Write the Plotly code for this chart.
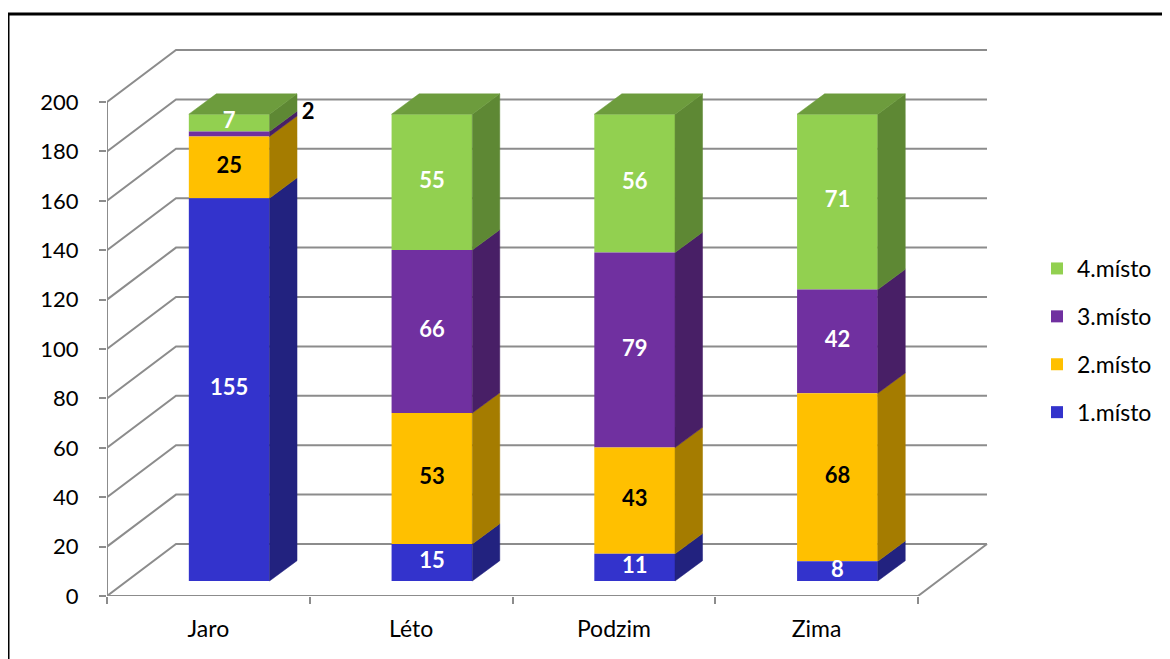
import plotly.graph_objects as go

# ---------------- data ----------------
categories = ["Jaro", "Léto", "Podzim", "Zima"]
series_names = ["1.místo", "2.místo", "3.místo", "4.místo"]
misto1 = [155, 15, 11, 8]
misto2 = [25, 53, 43, 68]
misto3 = [2, 66, 79, 42]
misto4 = [7, 55, 56, 71]
y_ticks = [0, 20, 40, 60, 80, 100, 120, 140, 160, 180, 200]

series_values = [misto1, misto2, misto3, misto4]

# ---------------- styles ----------------
front_colors = ["#3333CC", "#FFC000", "#7030A0", "#92D050"]
side_colors = ["#22227F", "#A57C00", "#481F66", "#5E8834"]
top_colors = ["#2A2AA6", "#D19E00", "#5C2783", "#6D9C3D"]
label_colors = ["white", "black", "white", "white"]
FONT = "Lato"
GRID = "#8C8C8C"

# ---------------- geometry ----------------
# page body has an 8px margin; work in window pixel coordinates
OFF = 8
WIN_W, WIN_H = 1170, 659
W, H = WIN_W - OFF, WIN_H - OFF
PLOT_LEFT, PLOT_TOP, PLOT_BOTTOM = 107, OFF, 596   # window pixels
ML, MR, MT = PLOT_LEFT - OFF, 0, PLOT_TOP - OFF
plot_h = PLOT_BOTTOM - PLOT_TOP
MB = H - MT - plot_h
plot_w = W - ML - MR
PX_PER_UNIT = 2.47


def du(px):  # pixel height -> value units
    return px / PX_PER_UNIT


front_left, front_right = 107.0, 918.0
slot = (front_right - front_left) / len(categories)
wall_dx, wall_dy = 69.0, du(52.0)
bar_off_dx, bar_off_dy = 20.8, du(15.0)
bar_w = 80.7
bar_dx, bar_dy = 27.5, du(20.3)

slot_centers = [front_left + slot * (i + 0.5) for i in range(len(categories))]
slot_bounds = [front_left + slot * i for i in range(len(categories) + 1)]
bar_centers = [c + bar_off_dx for c in slot_centers]

fig = go.Figure()

# grid / walls as shapes below traces
shapes = []
for v in y_ticks:
    shapes.append(dict(type="path", xref="x", yref="y", layer="below",
                       path=f"M{front_left},{v} L{front_left + wall_dx},{v + wall_dy} L{front_right + wall_dx},{v + wall_dy}",
                       line=dict(color=GRID, width=2)))
shapes.append(dict(type="path", xref="x", yref="y", layer="below",
                   path=f"M{front_left},0 L{front_right},0 L{front_right + wall_dx},{wall_dy}",
                   line=dict(color=GRID, width=2)))
shapes.append(dict(type="line", xref="x", yref="y", layer="below",
                   x0=front_left, x1=front_left, y0=-du(2), y1=y_ticks[-1],
                   line=dict(color=GRID, width=2)))
# outer frame (left and top edges visible)
fx0 = (8 - PLOT_LEFT) / plot_w
fx1 = (WIN_W + 3 - PLOT_LEFT) / plot_w
fy1 = 1 - (14 - PLOT_TOP) / plot_h
fy0 = 1 - (WIN_H + 10 - PLOT_TOP) / plot_h
shapes.append(dict(type="path", xref="paper", yref="paper", layer="above",
                   path=f"M{fx0},{fy0} L{fx0},{fy1} L{fx1},{fy1}",
                   line=dict(color="black", width=3)))

# front faces (stack bases)
cum = [0.0] * len(categories)
bases_all = []
for vals in series_values:
    bases_all.append([bar_off_dy + c for c in cum])
    cum = [c + v for c, v in zip(cum, vals)]

# add in reverse so the legend lists 4.místo first
for s in reversed(range(len(series_values))):
    fig.add_trace(go.Bar(
        x=bar_centers, y=series_values[s], base=bases_all[s], width=bar_w,
        name=series_names[s], legendgroup=series_names[s],
        marker=dict(color=front_colors[s], line=dict(width=0)),
        hoverinfo="skip"))

# side faces
for s, vals in enumerate(series_values):
    for i, v in enumerate(vals):
        b = bases_all[s][i]
        t = b + v
        xr = bar_centers[i] + bar_w / 2
        fig.add_trace(go.Scatter(
            x=[xr, xr + bar_dx, xr + bar_dx, xr, xr],
            y=[b, b + bar_dy, t + bar_dy, t, b],
            mode="lines", fill="toself", fillcolor=side_colors[s],
            line=dict(color=side_colors[s], width=0.5),
            showlegend=False, hoverinfo="skip"))

# top faces (colour of the top-most series)
for i in range(len(categories)):
    T = bar_off_dy + cum[i]
    top_s = max(s for s in range(len(series_values)) if series_values[s][i] > 0)
    xl = bar_centers[i] - bar_w / 2
    xr = bar_centers[i] + bar_w / 2
    fig.add_trace(go.Scatter(
        x=[xl, xr, xr + bar_dx, xl + bar_dx, xl],
        y=[T, T, T + bar_dy, T + bar_dy, T],
        mode="lines", fill="toself", fillcolor=top_colors[top_s],
        line=dict(color=top_colors[top_s], width=0.5),
        showlegend=False, hoverinfo="skip"))

# data labels
lx, ly, lt, lc = [], [], [], []
for s, vals in enumerate(series_values):
    for i, v in enumerate(vals):
        b = bases_all[s][i]
        if v < 5:
            lx.append(bar_centers[i] + bar_w / 2 + bar_dx + 11)
            ly.append(b + v / 2 + bar_dy)
            lc.append("black")
        else:
            lx.append(bar_centers[i])
            ly.append(b + v / 2)
            lc.append(label_colors[s])
        lt.append(str(v))
fig.add_trace(go.Scatter(
    x=lx, y=ly, text=lt, mode="text",
    textfont=dict(family=FONT, size=22, color=lc, weight="bold"),
    showlegend=False, hoverinfo="skip"))

fig.update_layout(
    width=W, height=H,
    margin=dict(l=ML, r=MR, t=MT, b=MB, autoexpand=False),
    paper_bgcolor="white", plot_bgcolor="white",
    barmode="overlay",
    shapes=shapes,
    font=dict(family=FONT, size=22, color="black"),
    showlegend=True,
    legend=dict(x=(1037 - PLOT_LEFT) / plot_w, y=1 - (247 - PLOT_TOP) / plot_h,
                xanchor="left", yanchor="top",
                traceorder="grouped", tracegroupgap=15,
                font=dict(family=FONT, size=23, color="black"),
                bgcolor="rgba(0,0,0,0)"),
    xaxis=dict(range=[PLOT_LEFT, WIN_W], tickvals=slot_centers, ticktext=categories,
               ticks="", showgrid=False, zeroline=False, showline=False,
               tickfont=dict(family=FONT, size=23, color="black"),
               ticklabelstandoff=17,
               minor=dict(tickvals=slot_bounds, ticks="outside", ticklen=7,
                          tickcolor=GRID, tickwidth=2, showgrid=False)),
    yaxis=dict(range=[0, du(plot_h)], tickvals=y_ticks,
               ticks="outside", ticklen=7, tickcolor=GRID, tickwidth=2,
               showgrid=False, zeroline=False, showline=False,
               tickfont=dict(family=FONT, size=22, color="black"),
               ticklabelstandoff=16),
)

fig.write_html("out.html")
